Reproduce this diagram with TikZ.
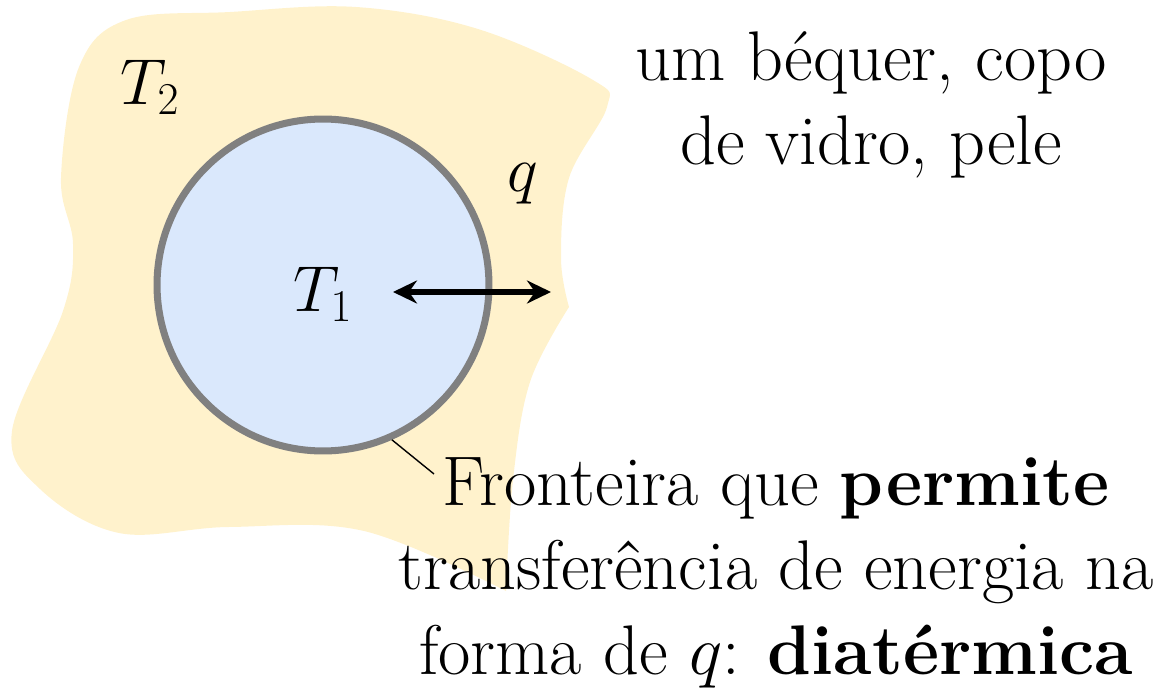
\RequirePackage{fix-cm}
\documentclass[tikz,border=0pt]{standalone}
\usepackage{amsmath}
\usetikzlibrary{arrows.meta}

\definecolor{vizfill}{HTML}{FFF2CC}
\definecolor{sysfill}{HTML}{DAE8FC}
\definecolor{sysedge}{HTML}{808080}
\tikzset{
  lbl/.style={inner sep=0pt, font=\fontsize{37}{47.5}\selectfont},
  txt/.style={inner sep=0pt, align=center, font=\fontsize{40}{48}\selectfont},
  sysbox/.style={circle, draw=sysedge, fill=sysfill, line width=4pt, minimum size=6.64cm, inner sep=0pt},
  qarrow/.style={{Stealth[length=4.8mm,width=4.6mm,inset=1.6mm]}-{Stealth[length=4.8mm,width=4.6mm,inset=1.6mm]}, line width=3pt},
  leader/.style={line width=0.8pt}
}

\begin{document}
\begin{tikzpicture}[x=0.02cm, y=-0.02cm]
  \useasboundingbox (0,0) rectangle (1161,696);
  % 外界（T₂）：不规则浅黄区域
  \fill[vizfill] plot[smooth, tension=0.6] coordinates {(569,307) (561,258) (569,178) (607,107) (593,80) (478,29) (356,7) (230,12) (126,20) (79,67) (61,178) (73,244) (63,311) (12,431) (40,489) (119,533) (229,527) (364,531) (506,591)}
    -- plot[smooth, tension=0.6] coordinates {(506,591) (513,480) (530,382) (569,307)} -- cycle;
  % 系统（T₁）：灰边圆，双向箭头 q
  \node[sysbox] (sys) at (323,285) {};
  \node[lbl, anchor=base west] (tsys) at (293,312) {$T_1$};
  \node[lbl, anchor=base west] (tviz) at (120,105) {$T_2$};
  \node[lbl, anchor=base west] (qlab) at (507,192) {$q$};
  \coordinate (qa) at (393,292);
  \coordinate (qb) at (551,292);
  \draw[qarrow] (qa) -- (qb);
  % 说明文字与引线（base = 末行基线）
  \node[txt, anchor=base] (exlab) at (871,165) {um béquer, copo\\de vidro, pele};
  \node[txt, anchor=base] (frontlab) at (776,674) {Fronteira que \textbf{permite}\\transferência de energia na\\forma de $q$: \textbf{diatérmica}};
  \coordinate (lead) at (434,474);
  \draw[leader] (sys.-66) -- (lead);
\end{tikzpicture}
\end{document}
